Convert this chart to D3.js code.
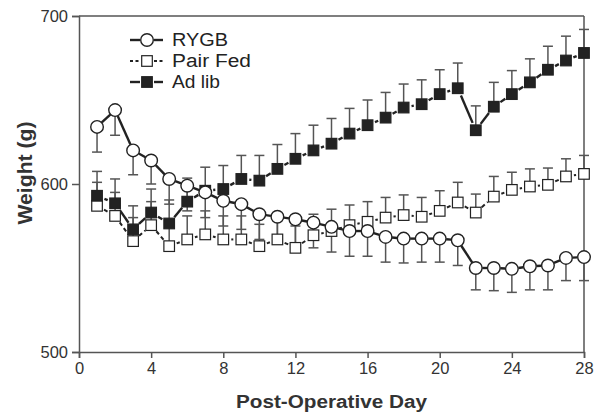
<!DOCTYPE html>
<html>
<head>
<meta charset="utf-8">
<script src="https://cdn.jsdelivr.net/npm/d3@7"></script>
<style>
html, body { margin: 0; padding: 0; background: #fff; }
svg { display: block; font-family: "Liberation Sans", Arial, sans-serif; }
</style>
</head>
<body>
<svg id="chart" width="601" height="419"></svg>
<script>
const days = [1,2,3,4,5,6,7,8,9,10,11,12,13,14,15,16,17,18,19,20,21,22,23,24,25,26,27,28];
const rygb    = [634,644,620,614,603,599,595,590,588,582,580.5,579,577,574.5,572,572,568.5,567.5,567.5,567.5,566.5,550,550,549.5,551,551.5,556,556.5];
const rygbErr = [15,15,14.5,14,15,15,15,15,15,15,15,15,15,15,15,15,15,14.5,14,14,15,13,13.5,14,14,14.5,13.5,14];
const pairFed    = [587,581,566,575.5,563,567,570,567,567,563,567,562,569.5,572,575.5,577.5,580,581.5,580.5,584,589,583,592.5,596.5,598.5,599.5,604.5,606];
const pairFedErr = [14,14,14,14,14,14,14,14,14,13,13,13,12.5,13,12,12,12,12,11.5,12,12,11,12,10.5,10.5,10,10.5,11];
const adLib    = [593,588.5,573,583,576.5,589.5,596,597,603,602,609,615,620,624,630,635,639.5,645.5,647.5,653.5,657,632,646,653.5,660.5,668,673.5,678];
const adLibErr = [14.5,14.5,14,14,14,14,14,14,14,15,14.5,15,15,15,15,15,15,14,14.5,14.5,15,14.5,14.5,14,14,14,14.5,14];
const xTicks = [0,4,8,12,16,20,24,28];
const yTicks = [500,600,700];
const seriesNames = ["RYGB","Pair Fed","Ad lib"];

const svg = d3.select("#chart");
const margin = {left: 79, right: 17, top: 16, bottom: 67};
const W = 601, H = 419;
const x = d3.scaleLinear().domain([0,28]).range([margin.left, W - margin.right]);
const y = d3.scaleLinear().domain([500,700]).range([H - margin.bottom, margin.top]);

const ink = "#222";
const axisCol = "#555";
const barCol = "#555";

// frame (top & right)
svg.append("line").attr("x1", x(0)).attr("x2", x(28)).attr("y1", y(700)).attr("y2", y(700))
  .attr("stroke", axisCol).attr("stroke-width", 1.5);
svg.append("line").attr("x1", x(28)).attr("x2", x(28)).attr("y1", y(700)).attr("y2", y(500))
  .attr("stroke", axisCol).attr("stroke-width", 1.5);

// axes
const xAxis = svg.append("g").attr("transform", `translate(0,${y(500)})`)
  .call(d3.axisBottom(x).tickValues(xTicks).tickSize(6).tickPadding(4).tickFormat(d3.format("d")));
const yAxis = svg.append("g").attr("transform", `translate(${x(0)},0)`)
  .call(d3.axisLeft(y).tickValues(yTicks).tickSize(7).tickPadding(4).tickFormat(d3.format("d")));
[xAxis, yAxis].forEach(g => {
  g.select(".domain").attr("stroke", axisCol).attr("stroke-width", 1.5);
  g.selectAll(".tick line").attr("stroke", axisCol).attr("stroke-width", 1.5);
  g.selectAll(".tick text").attr("fill", "#333").style("font-size", "16.5px")
    .style("font-family", "'Liberation Sans', Arial, sans-serif");
});
yAxis.selectAll(".tick text").attr("dy", "0.36em");

// titles
svg.append("text").attr("x", (x(0) + x(28)) / 2).attr("y", 408).attr("text-anchor", "middle")
  .attr("textLength", 191).attr("lengthAdjust", "spacingAndGlyphs")
  .attr("fill", "#333").style("font-size", "18px").style("font-weight", "bold").text("Post-Operative Day");
svg.append("text").attr("transform", `translate(32,173) rotate(-90)`)
  .attr("text-anchor", "middle").attr("fill", "#333").style("font-size", "21px").style("font-weight", "bold")
  .attr("textLength", 103).attr("lengthAdjust", "spacingAndGlyphs")
  .text("Weight (g)");

const series = [
  {name: seriesNames[0], vals: rygb, err: rygbErr, dir: -1, marker: "circle", fill: "#fff", dash: null, gap: 6.5, lw: 2.4, tl: 56},
  {name: seriesNames[1], vals: pairFed, err: pairFedErr, dir: 1, marker: "square", fill: "#fff", dash: "4,3", gap: 8, lw: 2, tl: 79},
  {name: seriesNames[2], vals: adLib, err: adLibErr, dir: 1, marker: "square", fill: ink, dash: null, gap: 8, lw: 2.4, tl: 48}
];

const capW = 5;
// error bars
series.forEach(s => {
  const g = svg.append("g");
  days.forEach((d, i) => {
    const v = s.vals[i], e = s.err[i] * s.dir;
    g.append("line").attr("x1", x(d)).attr("x2", x(d)).attr("y1", y(v)).attr("y2", y(v + e))
      .attr("stroke", barCol).attr("stroke-width", 1.5);
    g.append("line").attr("x1", x(d) - capW).attr("x2", x(d) + capW).attr("y1", y(v + e)).attr("y2", y(v + e))
      .attr("stroke", barCol).attr("stroke-width", 1.5);
  });
});

// connecting segments (stopped short of markers)
series.forEach(s => {
  const g = svg.append("g");
  for (let i = 0; i < days.length - 1; i++) {
    const x1 = x(days[i]), y1 = y(s.vals[i]), x2 = x(days[i+1]), y2 = y(s.vals[i+1]);
    const dx = x2 - x1, dy = y2 - y1, L = Math.hypot(dx, dy);
    if (L <= 2 * s.gap) continue;
    const ux = dx / L, uy = dy / L;
    const seg = g.append("line")
      .attr("x1", x1 + ux * s.gap).attr("y1", y1 + uy * s.gap)
      .attr("x2", x2 - ux * s.gap).attr("y2", y2 - uy * s.gap)
      .attr("stroke", ink).attr("stroke-width", s.lw);
    if (s.dash) seg.attr("stroke-dasharray", s.dash);
  }
});

function drawMarker(g, s, cx, cy) {
  if (s.marker === "circle") {
    g.append("circle").attr("cx", cx).attr("cy", cy).attr("r", 6.3)
      .attr("fill", s.fill).attr("stroke", ink).attr("stroke-width", 1.4);
  } else {
    const h = 5.3;
    g.append("rect").attr("x", cx - h).attr("y", cy - h).attr("width", 2 * h).attr("height", 2 * h)
      .attr("fill", s.fill).attr("stroke", ink).attr("stroke-width", 1.2);
  }
}

// markers (draw pair fed first, then ad lib, then RYGB on top)
[series[1], series[2], series[0]].forEach(s => {
  const g = svg.append("g");
  days.forEach((d, i) => drawMarker(g, s, x(d), y(s.vals[i])));
});

// legend
const leg = svg.append("g");
const legY = [40, 61, 82];
series.forEach((s, i) => {
  const ly = legY[i];
  const l1 = leg.append("line").attr("x1", 130).attr("x2", 140).attr("y1", ly).attr("y2", ly)
    .attr("stroke", ink).attr("stroke-width", s.lw);
  const l2 = leg.append("line").attr("x1", 154).attr("x2", 163).attr("y1", ly).attr("y2", ly)
    .attr("stroke", ink).attr("stroke-width", s.lw);
  if (s.dash) { l1.attr("stroke-dasharray", "3,2.5"); l2.attr("stroke-dasharray", "3,2.5"); }
  drawMarker(leg, s, 147, ly);
  leg.append("text").attr("x", 172).attr("y", ly).attr("dy", "0.36em").attr("fill", "#222")
    .attr("textLength", s.tl).attr("lengthAdjust", "spacingAndGlyphs")
    .style("font-size", "18px").text(s.name);
});
</script>
</body>
</html>
